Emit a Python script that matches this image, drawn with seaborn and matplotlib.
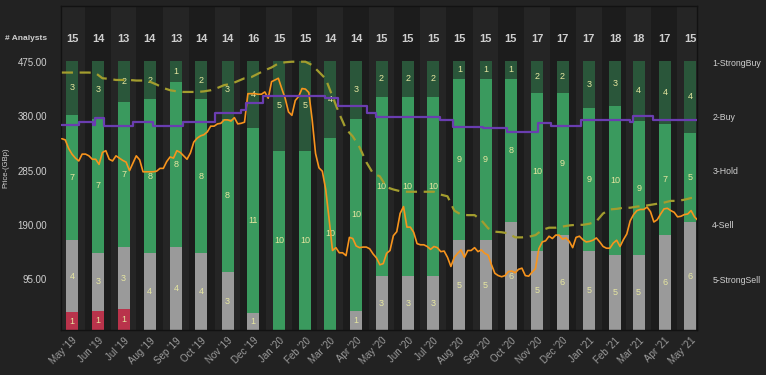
import matplotlib
matplotlib.use('Agg')
import matplotlib.pyplot as plt
import matplotlib.dates as mdates
import seaborn as sns
import numpy as np
import pandas as pd

# monthly analyst recommendation counts
months = pd.date_range('2019-05-01', periods=25, freq='MS')
month_labels = [d.strftime("%b '%y") for d in months]
analysts = [15, 14, 13, 14, 13, 14, 14, 16, 15, 15, 14, 14, 15, 15, 15, 15, 15, 15, 17, 17, 17, 18, 18, 17, 15]
buy = [3, 3, 2, 2, 1, 2, 3, 4, 5, 5, 4, 3, 2, 2, 2, 1, 1, 1, 2, 2, 3, 3, 4, 4, 4]
hold = [7, 7, 7, 8, 8, 8, 8, 11, 10, 10, 10, 10, 10, 10, 10, 9, 9, 8, 10, 9, 9, 10, 9, 7, 5]
sell = [4, 3, 3, 4, 4, 4, 3, 1, 0, 0, 0, 1, 3, 3, 3, 5, 5, 6, 5, 6, 5, 5, 5, 6, 6]
strong_sell = [1, 1, 1, 0, 0, 0, 0, 0, 0, 0, 0, 0, 0, 0, 0, 0, 0, 0, 0, 0, 0, 0, 0, 0, 0]

# share price (GBp), sampled every 4 days
price_start = '2019-04-19'
price = [341, 339, 324, 314, 307, 302, 314, 314, 311, 305, 305, 296, 317, 320, 305, 302, 311, 307, 303, 300,
         285, 298, 311, 304, 283, 283, 283, 283, 284, 289, 289, 301, 309, 307, 320, 317, 311, 305, 316, 335,
         342, 346, 348, 353, 363, 363, 367, 368, 374, 374, 372, 378, 367, 368, 370, 420, 420, 420, 419, 419,
         423, 412, 441, 444, 447, 429, 412, 388, 382, 408, 415, 429, 428, 422, 374, 315, 290, 284, 252, 200,
         145, 150, 141, 141, 136, 168, 166, 153, 150, 151, 151, 148, 139, 132, 120, 122, 140, 145, 171, 178,
         210, 222, 186, 186, 177, 157, 155, 155, 152, 147, 152, 150, 143, 144, 133, 117, 133, 140, 146, 133,
         145, 145, 150, 143, 146, 140, 137, 120, 105, 101, 99, 101, 108, 109, 106, 112, 114, 101, 100, 107,
         113, 148, 160, 162, 170, 166, 172, 172, 165, 167, 161, 150, 168, 170, 164, 160, 161, 163, 167, 160,
         152, 149, 149, 158, 163, 152, 164, 174, 197, 208, 215, 217, 217, 221, 213, 195, 199, 209, 218, 219,
         215, 212, 204, 205, 208, 209, 215, 204, 198]

# mean target price (GBp), sampled every 8 days
target = [457, 457, 457, 457, 457, 456, 447, 446, 444, 444, 444, 443, 443, 441, 436, 430, 426, 424, 423, 423,
          423, 424, 426, 430, 435, 437, 442, 447, 449, 455, 461, 466, 473, 475, 476, 476, 476, 470, 458, 446,
          415, 385, 358, 345, 326, 300, 280, 275, 256, 252, 249, 248, 248, 248, 248, 248, 243, 240, 215, 208,
          207, 207, 198, 184, 178, 177, 175, 168, 168, 169, 172, 181, 185, 185, 187, 189, 190, 190, 192, 196,
          210, 217, 218, 220, 220, 222, 223, 225, 227, 229, 232, 232, 234, 237, 238]

# consensus rating (1 = strong buy ... 5 = strong sell), changes
rating_dates = ['2019-04-18', '2019-05-09', '2019-05-26', '2019-05-28', '2019-06-08', '2019-07-12',
                '2019-08-05', '2019-09-09', '2019-10-17', '2019-11-17', '2019-11-23', '2019-12-13',
                '2020-02-24', '2020-03-11', '2020-04-14', '2020-04-25', '2020-07-09', '2020-07-25',
                '2020-08-29', '2020-09-26', '2020-11-02', '2020-11-17', '2020-12-23', '2021-02-19',
                '2021-02-22', '2021-03-18', '2021-05-10']
rating = [2.16, 2.10, 2.15, 2.02, 2.175, 2.10, 2.175, 2.10, 1.94, 1.88, 1.76, 1.62, 1.66, 1.80, 1.94,
          2.015, 2.07, 2.20, 2.22, 2.29, 2.125, 2.175, 2.065, 2.11, 1.99, 2.07, 2.07]
rating_labels = ['1-StrongBuy', '2-Buy', '3-Hold', '4-Sell', '5-StrongSell']
price_ticks = [95, 190, 285, 380, 475]

BG = '#222222'
AX_BG = '#1c1c1c'
STRIPE = '#252525'
TXT = '#cfcfcf'
C_BUY = '#2a563a'
C_HOLD = '#3a9a5e'
C_SELL = '#9a9a9a'
C_SSELL = '#b9334b'
C_PRICE = '#f7941d'
C_TARGET = '#a39d2e'
C_RATING = '#6a3db0'
C_BARTXT = '#e6e6a0'

sns.set_theme(style='dark')
plt.rcParams['font.family'] = ['Liberation Sans', 'DejaVu Sans']

fig = plt.figure(figsize=(7.66, 3.75), dpi=100, facecolor=BG)
ax = fig.add_axes([61 / 766, 45 / 375, 636 / 766, 324 / 375])
ax.set_facecolor(AX_BG)

df = pd.DataFrame({'month': months, 'analysts': analysts, 'buy': buy, 'hold': hold,
                   'sell': sell, 'strong_sell': strong_sell})
x = mdates.date2num(df['month'])
width = 14.2

# background stripes per month
for i, xc in enumerate(x):
    if i % 2 == 0:
        ax.axvspan(xc - 15.2, xc + 15.2, color=STRIPE, lw=0, zorder=0)

# 100% stacked recommendation bars
bottom = np.zeros(len(df))
for col, color in [('strong_sell', C_SSELL), ('sell', C_SELL), ('hold', C_HOLD), ('buy', C_BUY)]:
    share = df[col] / df['analysts']
    ax.bar(x, share, width=width, bottom=bottom, color=color, lw=0, zorder=2)
    for xi, b, s, n in zip(x, bottom, share, df[col]):
        if n > 0:
            ax.text(xi, b + s / 2, str(n), ha='center', va='center', fontsize=6.5,
                    color=C_BARTXT, zorder=3)
    bottom = bottom + share

for xi, n in zip(x, df['analysts']):
    ax.text(xi, 1.082, str(n), ha='center', va='center', fontsize=8, fontweight='bold', color=TXT)

ax.set_ylim(0, 1.2045)
ax.set_xlim(mdates.date2num(pd.Timestamp('2019-04-18')), mdates.date2num(pd.Timestamp('2021-05-09')))
ax.set_yticks([])
ax.set_xticks(x)
ax.set_xticklabels(month_labels, rotation=45, ha='right', rotation_mode='anchor',
                   fontsize=7, color='#9c9c9c')
ax.tick_params(axis='x', length=0, pad=4)
for s in ax.spines.values():
    s.set_color('#121212')
    s.set_linewidth(1)

# price and target on the left axis
axp = ax.twinx()
axp.patch.set_visible(False)
price_df = pd.DataFrame({'date': pd.date_range(price_start, periods=len(price), freq='4D'), 'price': price})
target_df = pd.DataFrame({'date': pd.date_range(price_start, periods=len(target), freq='8D'), 'target': target})
sns.lineplot(data=target_df, x='date', y='target', ax=axp, color=C_TARGET, lw=1.6,
             linestyle=(0, (5, 3)), zorder=4)
sns.lineplot(data=price_df, x='date', y='price', ax=axp, color=C_PRICE, lw=1.2, zorder=5)
axp.set_ylim(5.6, 573.7)
axp.yaxis.set_ticks_position('left')
axp.yaxis.set_label_position('left')
axp.set_yticks(price_ticks)
axp.set_yticklabels([f'{v:.2f}' for v in price_ticks], fontsize=7, color=TXT)
axp.tick_params(axis='y', length=0, pad=10)
axp.set_ylabel('Price-(GBp)', fontsize=5.5, color=TXT, labelpad=6)
axp.set_xlabel('')
axp.grid(False)
for s in axp.spines.values():
    s.set_visible(False)

# consensus rating on the right axis
axr = ax.twinx()
axr.patch.set_visible(False)
rating_df = pd.DataFrame({'date': pd.to_datetime(rating_dates), 'rating': rating})
sns.lineplot(data=rating_df, x='date', y='rating', ax=axr, color=C_RATING, lw=1.6,
             drawstyle='steps-post', zorder=4)
axr.set_ylim(5.941, -0.039)
axr.set_yticks([1, 2, 3, 4, 5])
axr.set_yticklabels(rating_labels, fontsize=6.3, color=TXT)
axr.tick_params(axis='y', length=0, pad=11)
axr.set_ylabel('')
axr.set_xlabel('')
axr.grid(False)
for s in axr.spines.values():
    s.set_visible(False)
axr.set_xlim(ax.get_xlim())

fig.text(5 / 766, 1 - 39 / 375, '# Analysts', fontsize=6, color=TXT, fontweight='bold',
         ha='left', va='center')

fig.savefig('out.png', dpi=100, facecolor=BG)
